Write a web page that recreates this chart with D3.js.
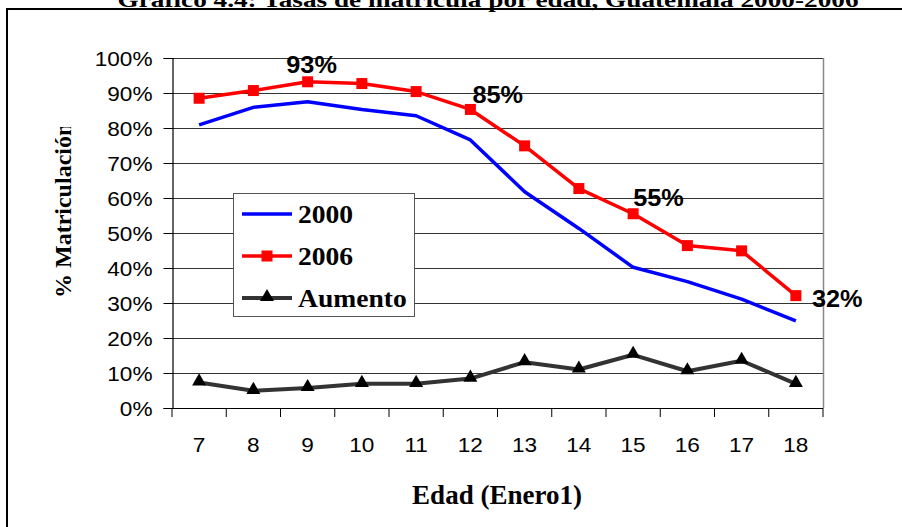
<!DOCTYPE html>
<html>
<head>
<meta charset="utf-8">
<script src="https://cdn.jsdelivr.net/npm/d3@7"></script>
<style>
  html, body { margin: 0; padding: 0; background: #fff; }
  svg { display: block; }
</style>
</head>
<body>
<script>
// ---- data ----
const ages = ["7","8","9","10","11","12","13","14","15","16","17","18"];
const values2000 = [80.9, 85.9, 87.5, 85.3, 83.5, 76.6, 61.8, 51.3, 40.2, 36.1, 31.1, 24.9];
const values2006 = [88.5, 90.7, 93.2, 92.7, 90.4, 85.3, 74.9, 62.7, 55.5, 46.4, 44.9, 32.1];
const valuesAumento = [7.3, 4.9, 5.7, 6.9, 6.9, 8.4, 13.1, 11.0, 15.2, 10.5, 13.5, 6.9];
const yTicks = [0, 10, 20, 30, 40, 50, 60, 70, 80, 90, 100];
const seriesNames = ["2000", "2006", "Aumento"];
const labelAges = ["9", "12", "15", "18"];
const labelTexts = ["93%", "85%", "55%", "32%"];
const titleText = "Gráfico 4.4: Tasas de matrícula por edad, Guatemala 2000-2006";
const xTitle = "Edad (Enero1)";
const yTitle = "% Matriculación";

const W = 902, H = 527;
const svg = d3.select("body").append("svg").attr("width", W).attr("height", H);

const SANS = "'Liberation Sans', Arial, sans-serif";
const SERIF = "'Liberation Serif', 'Times New Roman', serif";

function stretch(sel, k) {
  sel.each(function () {
    const L = this.getComputedTextLength();
    d3.select(this).attr("textLength", L * k).attr("lengthAdjust", "spacingAndGlyphs");
  });
}

const x = d3.scaleBand().domain(ages).range([172, 823]).padding(0);
const y = d3.scaleLinear().domain([0, 100]).range([408, 58]);
const cx = a => x(a) + x.bandwidth() / 2;

// outer frame (top + left visible)
svg.append("line").attr("x1", 7).attr("x2", W).attr("y1", 9).attr("y2", 9)
  .attr("stroke", "#000").attr("stroke-width", 2);
svg.append("line").attr("x1", 7).attr("x2", 7).attr("y1", 8).attr("y2", H)
  .attr("stroke", "#000").attr("stroke-width", 2);

// title (cut off at top)
const t = svg.append("text").attr("x", 488).attr("y", 6.5).attr("text-anchor", "middle")
  .attr("font-family", SERIF).attr("font-weight", "bold").attr("font-size", 22)
  .text(titleText);
t.attr("textLength", 741).attr("lengthAdjust", "spacingAndGlyphs");

// gridlines
svg.append("g").selectAll("line").data(yTicks.filter(d => d > 0)).join("line")
  .attr("x1", 172).attr("x2", 823)
  .attr("y1", d => Math.round(y(d)) + 0.5).attr("y2", d => Math.round(y(d)) + 0.5)
  .attr("stroke", "#333").attr("stroke-width", 1);

// right border of plot area
svg.append("line").attr("x1", 823.5).attr("x2", 823.5).attr("y1", y(100)).attr("y2", y(0))
  .attr("stroke", "#888").attr("stroke-width", 1.5);

// y axis
const yAxis = svg.append("g").attr("transform", "translate(172.5,0)")
  .call(d3.axisLeft(y).tickValues(yTicks).tickSize(9).tickFormat(d => d + "%"));
yAxis.select(".domain").attr("stroke", "#000").attr("stroke-width", 1.2);
yAxis.selectAll(".tick line").attr("stroke", "#000");
yAxis.selectAll(".tick text").attr("font-family", SANS).attr("font-size", 20)
  .attr("fill", "#000").attr("x", -20).attr("dy", "0.36em");
stretch(yAxis.selectAll(".tick text"), 1.13);

// x axis (ticks at band boundaries)
const xAxisG = svg.append("g");
xAxisG.append("line").attr("x1", 172).attr("x2", 823).attr("y1", 408.5).attr("y2", 408.5)
  .attr("stroke", "#000").attr("stroke-width", 1.2);
const bounds = ages.map(a => x(a)).concat([x.range()[1]]);
xAxisG.selectAll("line.tk").data(bounds).join("line").attr("class", "tk")
  .attr("x1", d => d).attr("x2", d => d).attr("y1", 408).attr("y2", 417)
  .attr("stroke", "#000").attr("stroke-width", 1);
const xl = xAxisG.selectAll("text").data(ages).join("text")
  .attr("x", d => cx(d)).attr("y", 452).attr("text-anchor", "middle")
  .attr("font-family", SANS).attr("font-size", 20).attr("fill", "#000").text(d => d);
stretch(xl, 1.13);

// axis titles
svg.append("text").attr("x", 497).attr("y", 504).attr("text-anchor", "middle")
  .attr("font-family", SERIF).attr("font-weight", "bold").attr("font-size", 27)
  .text(xTitle);

svg.append("defs").append("clipPath").attr("id", "yclip")
  .append("rect").attr("x", 0).attr("y", 127).attr("width", 160).attr("height", 300);
svg.append("g").attr("clip-path", "url(#yclip)")
  .append("text").attr("transform", "translate(71,298) rotate(-90)")
  .attr("font-family", SERIF).attr("font-weight", "bold").attr("font-size", 24)
  .text(yTitle);

// lines
const line = vals => d3.line().x((d, i) => cx(ages[i])).y(d => y(d))(vals);
svg.append("path").attr("d", line(values2000)).attr("fill", "none")
  .attr("stroke", "#0000FF").attr("stroke-width", 3.5).attr("stroke-linejoin", "round");
svg.append("path").attr("d", line(values2006)).attr("fill", "none")
  .attr("stroke", "#FF0000").attr("stroke-width", 3.5).attr("stroke-linejoin", "round");
svg.append("path").attr("d", line(valuesAumento)).attr("fill", "none")
  .attr("stroke", "#333333").attr("stroke-width", 4).attr("stroke-linejoin", "round");

// markers
svg.append("g").selectAll("rect").data(values2006).join("rect")
  .attr("x", (d, i) => cx(ages[i]) - 5.5).attr("y", d => y(d) - 5.5)
  .attr("width", 11).attr("height", 11).attr("fill", "#FF0000");
const tri = d3.symbol().type(d3.symbolTriangle).size(85);
svg.append("g").selectAll("path").data(valuesAumento).join("path")
  .attr("transform", (d, i) => `translate(${cx(ages[i])},${y(d) - 1})`)
  .attr("d", tri).attr("fill", "#000");

// data labels
const lblOffsets = [[4, -9, "middle"], [2, -6, "start"], [0, -8, "start"], [16, 11, "start"]];
labelAges.forEach((a, k) => {
  const i = ages.indexOf(a);
  const o = lblOffsets[k];
  const tt = svg.append("text").attr("x", cx(a) + o[0]).attr("y", y(values2006[i]) + o[1])
    .attr("text-anchor", o[2]).attr("font-family", SANS).attr("font-weight", "bold")
    .attr("font-size", 23).attr("fill", "#000").text(labelTexts[k]);
  stretch(tt, 1.1);
});

// legend
const lg = svg.append("g");
lg.append("rect").attr("x", 233.5).attr("y", 193.5).attr("width", 181).attr("height", 123)
  .attr("fill", "#fff").attr("stroke", "#555").attr("stroke-width", 1);
const ly = [214, 256, 298];
const lcol = ["#0000FF", "#FF0000", "#333333"];
seriesNames.forEach((s, i) => {
  lg.append("line").attr("x1", 242).attr("x2", 292).attr("y1", ly[i]).attr("y2", ly[i])
    .attr("stroke", lcol[i]).attr("stroke-width", i === 2 ? 4 : 3.5);
  if (i === 1) lg.append("rect").attr("x", 267 - 5.5).attr("y", ly[i] - 5.5)
    .attr("width", 11).attr("height", 11).attr("fill", "#FF0000");
  if (i === 2) lg.append("path").attr("transform", `translate(267,${ly[i] - 1})`)
    .attr("d", tri).attr("fill", "#000");
  const lt = lg.append("text").attr("x", 298).attr("y", ly[i] + 9)
    .attr("font-family", SERIF).attr("font-weight", "bold").attr("font-size", 26).text(s);
  stretch(lt, 1.06);
});
</script>
</body>
</html>
